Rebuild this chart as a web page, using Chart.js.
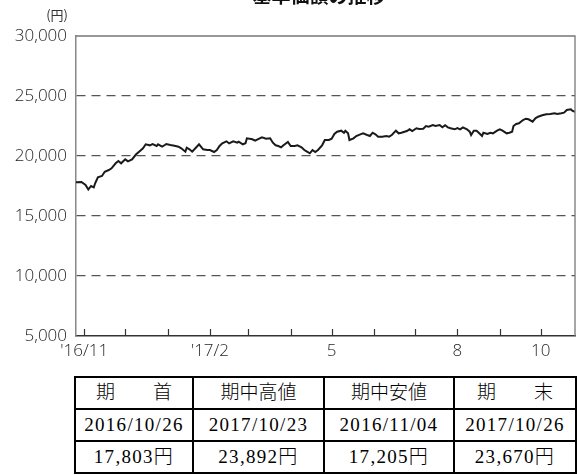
<!DOCTYPE html>
<html>
<head>
<meta charset="utf-8">
<script src="https://cdn.jsdelivr.net/npm/chart.js@4.4.1/dist/chart.umd.min.js"></script>
<style>
  html, body { margin: 0; padding: 0; background: #fff; }
  body { width: 577px; height: 475px; position: relative; overflow: hidden; }
  #wrap { position: absolute; left: 0; top: 0; width: 577px; height: 375px; }
  table.summary {
    position: absolute; left: 74px; top: 376px;
    border-collapse: collapse; table-layout: fixed;
    font-family: "Liberation Serif", "Noto Sans CJK JP", serif;
    font-size: 19px; color: #000; font-weight: 300;
  }
  table.summary td {
    border: 2px solid #000; text-align: center; height: 30px; padding: 0;
    line-height: 30px; white-space: pre;
  }
  table.summary tr.num td { letter-spacing: 1.3px; font-size: 19px; }
  table.summary tr.head td { font-size: 19px; }
</style>
</head>
<body>
<div id="wrap"><canvas id="c" width="577" height="375"></canvas></div>
<table class="summary" id="tbl"></table>
<script>
// ---- data (days since 2016-10-26, 基準価額 in 円) ----
const dayOffsets = [0,4,7,9,11,13,14,16,19,21,24,26,29,31,33,36,38,41,44,47,49,51,54,56,59,60,63,65,66,69,72,75,77,80,81,83,85,88,90,93,96,98,101,103,105,107,110,112,115,118,
  119,122,124,125,129,131,134,136,139,142,144,146,148,150,152,155,157,160,162,165,167,169,171,173,175,177,180,182,185,187,189,191,194,196,197,199,200,203,205,208,210,213,215,217,219,221,224,227,229,231,234,236,
  238,242,244,246,249,251,254,256,258,261,263,266,268,270,272,274,277,279,281,283,286,288,289,291,293,295,297,298,301,303,305,308,310,312,315,317,319,320,322,324,327,329,331,334,336,338,341,344,347,350,352,355,357,359,362,363,365];
const navValues = [17803,17833,17583,17205,17500,17390,17725,18225,18333,18690,18833,18975,19390,19580,19390,19720,19555,19720,20140,20440,20640,20975,20890,21000,20833,20975,20775,20917,21000,20917,20860,20775,20640,20360,20690,20560,20360,20725,20975,20560,20500,20500,20333,20500,20833,21060,21225,21060,21225,21110,
  21190,20975,21060,21475,21390,21275,21445,21555,21445,21475,21110,20890,20833,20725,20917,21167,20833,20833,20890,20725,20500,20360,20225,20500,20333,20500,20890,21333,21333,21445,21833,22025,22110,21940,22110,21890,21333,21475,21667,21805,21890,21750,21667,21940,21805,21610,21610,21667,21610,21750,22110,21890,
  21940,22080,22225,22080,22310,22250,22275,22500,22440,22580,22500,22580,22390,22560,22390,22310,22225,22333,22225,22390,22225,22025,21750,22110,22110,21890,21667,21940,21833,21940,21890,22110,22225,22110,21890,21940,22025,22500,22667,22725,23000,23110,23060,22860,23140,23275,23390,23475,23500,23560,23500,23560,23610,23833,23892,23780,23670];

// month starts (days since 2016-10-26) and their labels
const monthTickDays = [6,36,67,98,126,157,187,218,248,279,310,340];
const monthTickLabels = ["'16/11","","","'17/2","","","5","","","8","","10"];
const yTickValues = [5000,10000,15000,20000,25000,30000];

const chartTitle = "基準価額の推移";
const yUnit = "(円)";

const tableHeader = ["期　　首","期中高値","期中安値","期　　末"];
const tableDates = ["2016/10/26","2017/10/23","2016/11/04","2017/10/26"];
const tableValues = ["17,803円","23,892円","17,205円","23,670円"];

// ---- table ----
(function(){
  const widths = [118,131,130,122];
  const tbl = document.getElementById('tbl');
  const cg = document.createElement('colgroup');
  widths.forEach(w => { const c = document.createElement('col'); c.style.width = w + 'px'; cg.appendChild(c); });
  tbl.appendChild(cg);
  [[tableHeader,'head'], [tableDates,'num'], [tableValues,'num']].forEach(([row, cls]) => {
    const tr = document.createElement('tr');
    tr.className = cls;
    row.forEach(t => { const td = document.createElement('td'); td.textContent = t; tr.appendChild(td); });
    tbl.appendChild(tr);
  });
})();

// ---- chart ----
const points = dayOffsets.map((d, i) => ({x: d, y: navValues[i]}));

const decor = {
  id: 'decor',
  afterDraw(chart) {
    const {ctx, chartArea: a} = chart;
    const xs = chart.scales.x;
    ctx.save();
    // top and right frame
    ctx.strokeStyle = '#777';
    ctx.lineWidth = 1.3;
    ctx.beginPath();
    ctx.moveTo(a.left, a.top); ctx.lineTo(a.right, a.top); ctx.lineTo(a.right, a.bottom);
    ctx.stroke();
    // inward month ticks
    ctx.strokeStyle = '#333';
    ctx.lineWidth = 1.2;
    xs.ticks.forEach(t => {
      const px = Math.round(xs.getPixelForValue(t.value)) + 0.5;
      ctx.beginPath(); ctx.moveTo(px, a.bottom); ctx.lineTo(px, a.bottom - 7); ctx.stroke();
    });
    // title (partly cut at top)
    ctx.fillStyle = '#111';
    ctx.font = 'bold 19px "Noto Sans CJK JP"';
    ctx.textAlign = 'center';
    ctx.textBaseline = 'alphabetic';
    ctx.fillText(chartTitle, 319, 3);
    // unit
    ctx.fillStyle = '#333';
    ctx.font = '13px "Noto Sans CJK JP"';
    ctx.textAlign = 'right';
    ctx.textBaseline = 'middle';
    ctx.fillText(yUnit, 68, 15);
    ctx.restore();
  }
};

new Chart(document.getElementById('c'), {
  type: 'line',
  data: {
    datasets: [{
      data: points,
      borderColor: '#1a1a1a',
      borderWidth: 2,
      pointRadius: 0,
      tension: 0,
      fill: false
    }]
  },
  options: {
    responsive: false,
    animation: false,
    devicePixelRatio: 1,
    layout: { padding: { left: 0, top: 36, right: 2, bottom: 0 } },
    plugins: { legend: { display: false }, tooltip: { enabled: false }, title: { display: false } },
    scales: {
      x: {
        type: 'linear',
        min: 0, max: 365,
        afterFit(s) { s.height = 39; },
        afterBuildTicks(s) { s.ticks = monthTickDays.map(v => ({value: v})); },
        ticks: {
          autoSkip: false, maxRotation: 0, minRotation: 0, padding: 5,
          color: '#1e1e1e',
          font: { family: '"Open Sans", "Noto Sans"', size: 17, weight: '300' },
          callback(v) { const i = monthTickDays.indexOf(v); return i >= 0 ? monthTickLabels[i] : ''; }
        },
        grid: { display: false, drawTicks: false },
        border: { display: true, color: '#333', width: 1.5 }
      },
      y: {
        type: 'linear',
        min: 5000, max: 30000,
        afterFit(s) { s.width = 76; },
        afterBuildTicks(s) { s.ticks = yTickValues.map(v => ({value: v})); },
        ticks: {
          padding: 9,
          color: '#1e1e1e',
          font: { family: '"Open Sans", "Noto Sans"', size: 17, weight: '300' },
          callback(v) { return v.toLocaleString('en-US'); }
        },
        grid: {
          drawTicks: false,
          lineWidth: 1.2,
          color(c) { const v = c.tick && c.tick.value; return (v === 5000 || v === 30000) ? 'rgba(0,0,0,0)' : '#555'; }
        },
        border: { display: true, color: '#888', width: 1.5, dash: [9, 6] }
      }
    }
  },
  plugins: [decor]
});
</script>
</body>
</html>
